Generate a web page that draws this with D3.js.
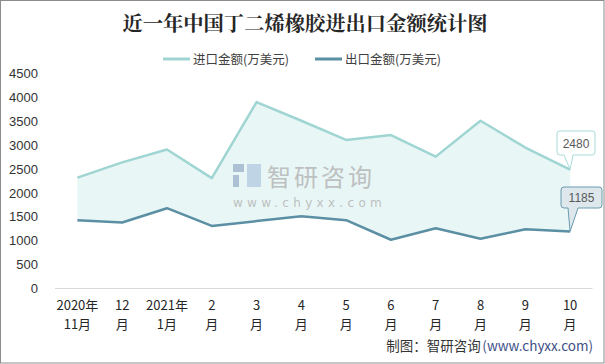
<!DOCTYPE html>
<html><head><meta charset="utf-8">
<script src="https://cdn.jsdelivr.net/npm/d3@7"></script>
<style>body{margin:0;background:#fff}svg{display:block}text{font-family:"Noto Sans CJK SC","Microsoft YaHei",sans-serif}</style>
</head><body><svg id="c" width="605" height="364"></svg>
<script>
const categories = [["2020年","11月"],["12","月"],["2021年","1月"],["2","月"],["3","月"],["4","月"],["5","月"],["6","月"],["7","月"],["8","月"],["9","月"],["10","月"]];
const importVals = [2310, 2630, 2900, 2300, 3890, 3500, 3100, 3200, 2750, 3500, 2940, 2480];
const exportVals = [1420, 1370, 1670, 1300, 1400, 1500, 1420, 1010, 1250, 1030, 1230, 1185];
const yTicks = [0, 500, 1000, 1500, 2000, 2500, 3000, 3500, 4000, 4500];
const seriesNames = ["进口金额(万美元)", "出口金额(万美元)"];
const title = "近一年中国丁二烯橡胶进出口金额统计图";
const sourceLabel = "制图：智研咨询";
const sourceUrl = "(www.chyxx.com)";

const svg = d3.select("#c");
const W = 605, H = 364;
const cImp = "#9fd5d2", cExp = "#5b8fa4";

svg.append("rect").attr("x",0.5).attr("y",0.5).attr("width",W-1.5).attr("height",H-1.5)
  .attr("fill","#fff").attr("stroke","#8c8c8c").attr("stroke-width",1);

const x = d3.scaleBand().domain(d3.range(categories.length)).range([55, 592.5]);
const xc = i => x(i) + x.bandwidth()/2;
const y = d3.scaleLinear().domain([0, 4500]).range([288, 73]);

// title
svg.append("text").attr("x", 305).attr("y", 31).attr("text-anchor","middle")
  .attr("font-size", 20.3).attr("font-weight","bold").attr("fill","#262626")
  .style("font-family","'Noto Serif CJK SC','Noto Sans CJK SC',serif").text(title);

// legend
const leg = [{x:163, c:cImp, t:seriesNames[0]}, {x:315, c:cExp, t:seriesNames[1]}];
leg.forEach(l => {
  svg.append("line").attr("x1", l.x).attr("x2", l.x+27).attr("y1", 59).attr("y2", 59)
    .attr("stroke", l.c).attr("stroke-width", 3);
  svg.append("text").attr("x", l.x+30).attr("y", 63.5).attr("font-size", 12.5)
    .attr("fill","#404040").text(l.t);
});

// area between
const area = d3.area().x((d,i)=>xc(i)).y0((d,i)=>y(exportVals[i])).y1(d=>y(d));
svg.append("path").datum(importVals).attr("d", area).attr("fill", "#e9f6f6");

// watermark
const wm = svg.append("g").attr("opacity", 0.8);
wm.append("rect").attr("x",233).attr("y",164).attr("width",11).attr("height",8).attr("fill","#9db5cc");
wm.append("rect").attr("x",233).attr("y",175).attr("width",6).attr("height",12).attr("fill","#9db5cc");
wm.append("rect").attr("x",247).attr("y",164).attr("width",14).attr("height",23).attr("fill","#b5cce0");
wm.append("text").attr("x",267).attr("y",186).attr("font-size",24).attr("fill","#b3b3b3").attr("letter-spacing",3).text("智研咨询");
wm.append("text").attr("x",233).attr("y",207).attr("font-size",12).attr("fill","#b3b3b3").attr("letter-spacing",4.3)
  .style("font-family","'DejaVu Sans',sans-serif").text("www.chyxx.com");

// axis
const yAxis = d3.axisLeft(y).tickValues(yTicks).tickSize(0).tickPadding(0).tickFormat(d3.format("d"));
const gy = svg.append("g").attr("transform","translate(38,0)").call(yAxis);
gy.select(".domain").remove();
gy.selectAll("text").attr("font-size",13).attr("fill","#333").style("font-family","'Liberation Sans',Arial,sans-serif").attr("dy","0.35em");

const xAxis = d3.axisBottom(x).tickSize(0).tickFormat(()=>"");
const gx = svg.append("g").attr("transform","translate(0,288)").call(xAxis);
gx.select(".domain").attr("stroke","#d9d9d9").attr("stroke-width",1).attr("d","M"+x.range()[0]+",0.5H"+x.range()[1]);
gx.selectAll(".tick").each(function(d){
  const t = d3.select(this);
  categories[d].forEach((s,k)=>{
    t.append("text").attr("y", 22 + k*19).attr("text-anchor","middle").attr("font-size",13)
      .attr("fill","#262626").text(s);
  });
});

// lines
const line = d3.line().x((d,i)=>xc(i)).y(d=>y(d));
svg.append("path").datum(importVals).attr("d", line).attr("fill","none").attr("stroke", cImp).attr("stroke-width",2.5).attr("stroke-linejoin","round");
svg.append("path").datum(exportVals).attr("d", line).attr("fill","none").attr("stroke", cExp).attr("stroke-width",2.5).attr("stroke-linejoin","round");

// callouts
function callout(val, bx, by, bw, bh, fill, stroke, px0, px1) {
  const li = importVals.length - 1;
  const tx = xc(li), ty = y(val);
  const r = 3;
  const p = d3.path();
  p.moveTo(bx+r, by); p.lineTo(bx+bw-r, by); p.quadraticCurveTo(bx+bw, by, bx+bw, by+r);
  p.lineTo(bx+bw, by+bh-r); p.quadraticCurveTo(bx+bw, by+bh, bx+bw-r, by+bh);
  p.lineTo(px1, by+bh); p.lineTo(tx, ty); p.lineTo(px0, by+bh);
  p.lineTo(bx+r, by+bh); p.quadraticCurveTo(bx, by+bh, bx, by+bh-r);
  p.lineTo(bx, by+r); p.quadraticCurveTo(bx, by, bx+r, by); p.closePath();
  svg.append("path").attr("d", p.toString()).attr("fill", fill).attr("stroke", stroke).attr("stroke-width",1);
  svg.append("text").attr("x", bx+bw/2).attr("y", by+bh/2+4.5).attr("text-anchor","middle")
    .attr("font-size",12).attr("fill","#595959").style("font-family","'Liberation Sans',Arial,sans-serif").text(val);
}
callout(importVals[importVals.length-1], 557, 131, 38, 24, "#fff", "#a8dcd9", 564, 573);
callout(exportVals[exportVals.length-1], 561, 187, 41, 21, "#dde7ec", "#6a9bb0", 568, 578);

// source
const src = svg.append("text").attr("x", 593).attr("y", 351).attr("text-anchor","end").attr("font-size",13.5).attr("fill","#333");
src.append("tspan").text(sourceLabel);
src.append("tspan").attr("fill","#3d4f86").attr("dx",1.5).text(sourceUrl);
</script>
</body></html>
